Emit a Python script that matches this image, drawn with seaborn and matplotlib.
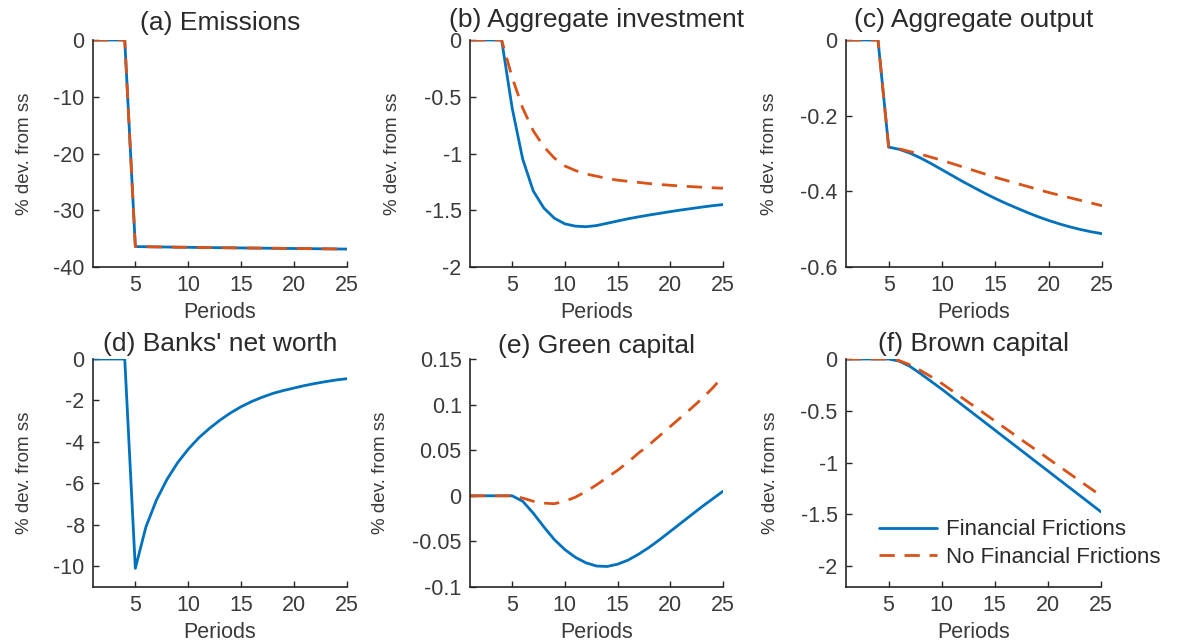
import matplotlib
matplotlib.use("Agg")
import matplotlib.pyplot as plt
import pandas as pd
import seaborn as sns
from matplotlib.ticker import FixedLocator, FuncFormatter

# ---------------------------------------------------------------- data
periods = list(range(1, 26))

emissions_ff = [0, 0, 0, 0, -36.40, -36.43, -36.46, -36.48, -36.51, -36.53, -36.56,
                -36.58, -36.60, -36.62, -36.64, -36.66, -36.68, -36.70, -36.72,
                -36.74, -36.76, -36.78, -36.80, -36.82, -36.84]
emissions_nff = list(emissions_ff)

investment_ff = [0, 0, 0, 0, -0.60, -1.05, -1.33, -1.48, -1.57, -1.62, -1.64, -1.645,
                 -1.635, -1.615, -1.595, -1.575, -1.558, -1.542, -1.527, -1.512, -1.498,
                 -1.485, -1.472, -1.46, -1.45]
investment_nff = [0, 0, 0, 0, -0.33, -0.60, -0.80, -0.94, -1.04, -1.11, -1.15, -1.18,
                  -1.20, -1.22, -1.235, -1.245, -1.255, -1.265, -1.273, -1.28, -1.286,
                  -1.292, -1.297, -1.302, -1.306]

output_ff = [0, 0, 0, 0, -0.283, -0.289, -0.299, -0.312, -0.327, -0.343, -0.359,
             -0.375, -0.390, -0.405, -0.419, -0.432, -0.444, -0.456, -0.467, -0.477,
             -0.486, -0.494, -0.501, -0.507, -0.512]
output_nff = [0, 0, 0, 0, -0.283, -0.288, -0.295, -0.302, -0.310, -0.318, -0.327,
              -0.336, -0.345, -0.354, -0.363, -0.371, -0.379, -0.387, -0.395, -0.403,
              -0.410, -0.417, -0.424, -0.431, -0.438]

networth_ff = [0, 0, 0, 0, -10.1, -8.1, -6.8, -5.8, -5.0, -4.35, -3.8, -3.35, -2.95,
               -2.6, -2.3, -2.05, -1.84, -1.66, -1.52, -1.40, -1.28, -1.18, -1.09,
               -1.01, -0.95]

green_ff = [0, 0, 0, 0, 0, -0.006, -0.019, -0.034, -0.048, -0.059, -0.0675, -0.0735,
            -0.077, -0.0775, -0.075, -0.0705, -0.064, -0.0565, -0.048, -0.039, -0.030,
            -0.021, -0.012, -0.0035, 0.005]
green_nff = [0, 0, 0, 0, 0, -0.0025, -0.006, -0.008, -0.0087, -0.006, -0.0015, 0.0047,
             0.012, 0.020, 0.028, 0.037, 0.047, 0.056, 0.066, 0.076, 0.086, 0.096,
             0.1065, 0.118, 0.131]

brown_ff = [0, 0, 0, 0, 0, -0.02, -0.07, -0.14, -0.215, -0.29, -0.369, -0.448, -0.527,
            -0.606, -0.685, -0.764, -0.843, -0.922, -1.001, -1.08, -1.159, -1.238,
            -1.317, -1.396, -1.475]
brown_nff = [0, 0, 0, 0, 0, -0.015, -0.055, -0.11, -0.17, -0.235, -0.307, -0.38, -0.452,
             -0.524, -0.597, -0.669, -0.742, -0.814, -0.886, -0.959, -1.031, -1.103,
             -1.176, -1.248, -1.32]

series_names = ["Financial Frictions", "No Financial Frictions"]
x_ticks = [5, 10, 15, 20, 25]

# ---------------------------------------------------------------- style
sns.set_theme(style="white")
plt.rcParams["font.family"] = ["Liberation Sans", "DejaVu Sans"]
plt.rcParams["axes.unicode_minus"] = False

BLUE = "#0072BD"
ORANGE = "#D95319"
AXIS = "#262626"
TEXT = "#3a3a3a"

fig = plt.figure(figsize=(11.87, 6.44), dpi=100)

# axes rectangles in figure fractions: [left, bottom, width, height]
top_b, top_h = 1 - 267 / 644, (267 - 40) / 644
bot_b, bot_h = 1 - 587 / 644, (587 - 359) / 644
rects = [
    [93 / 1187, top_b, 254 / 1187, top_h],
    [470 / 1187, top_b, 253 / 1187, top_h],
    [846 / 1187, top_b, 256 / 1187, top_h],
    [93 / 1187, bot_b, 254 / 1187, bot_h],
    [470 / 1187, bot_b, 253 / 1187, bot_h],
    [846 / 1187, bot_b, 255 / 1187, bot_h],
]

panels = [
    ("(a) Emissions", emissions_ff, emissions_nff, (-40, 0), [-40, -30, -20, -10, 0], -0.236, 7),
    ("(b) Aggregate investment", investment_ff, investment_nff, (-2, 0), [-2, -1.5, -1, -0.5, 0], -0.273, 9),
    ("(c) Aggregate output", output_ff, output_nff, (-0.6, 0), [-0.6, -0.4, -0.2, 0], -0.266, 9),
    ("(d) Banks' net worth", networth_ff, None, (-11, 0), [-10, -8, -6, -4, -2, 0], -0.236, 6),
    ("(e) Green capital", green_ff, green_nff, (-0.1, 0.15), [-0.1, -0.05, 0, 0.05, 0.1, 0.15], -0.32, 4),
    ("(f) Brown capital", brown_ff, brown_nff, (-2.2, 0), [-2, -1.5, -1, -0.5, 0], -0.262, 6),
]

palette = {series_names[0]: BLUE, series_names[1]: ORANGE}
dashes = {series_names[0]: "", series_names[1]: (5.5, 3.5)}

for i, (title, ff, nff, ylim, yticks, ylab_x, tpad) in enumerate(panels):
    ax = fig.add_axes(rects[i])
    frames = [pd.DataFrame({"period": periods, "value": ff, "model": series_names[0]})]
    if nff is not None:
        frames.append(pd.DataFrame({"period": periods, "value": nff, "model": series_names[1]}))
    df = pd.concat(frames, ignore_index=True)
    sns.lineplot(data=df, x="period", y="value", hue="model", style="model",
                 palette=palette, dashes=dashes, linewidth=2.0, ax=ax,
                 legend=(i == 5))

    ax.set_xlim(1, 25)
    ax.set_ylim(*ylim)
    ax.xaxis.set_major_locator(FixedLocator(x_ticks))
    ax.yaxis.set_major_locator(FixedLocator(yticks))
    ax.yaxis.set_major_formatter(FuncFormatter(lambda v, p: f"{v:g}"))
    ax.tick_params(axis="both", direction="in", length=4, width=1.0, color=AXIS,
                   labelcolor=TEXT, labelsize=15.5, pad=6,
                   left=True, bottom=True, top=False, right=False)
    sns.despine(ax=ax)
    for side in ("left", "bottom"):
        ax.spines[side].set_color(AXIS)
        ax.spines[side].set_linewidth(1.2)

    ax.set_title(title, fontsize=19, color="#2a2a2a", pad=tpad)
    ax.set_xlabel("Periods", fontsize=15.5, color=TEXT, labelpad=4)
    ax.set_ylabel("% dev. from ss", fontsize=13.5, color=TEXT)
    ax.yaxis.set_label_coords(ylab_x, 0.5)

    if i == 5:
        leg = ax.legend(loc="center left", bbox_to_anchor=(0.13, 0.19),
                        frameon=False, fontsize=16, handlelength=2.6,
                        handletextpad=0.4, labelspacing=0.3,
                        borderaxespad=0, borderpad=0)
        for txt in leg.get_texts():
            txt.set_color("#2a2a2a")
        for line in leg.get_lines():
            line.set_linewidth(2.0)

fig.savefig("out.png", dpi=100)
